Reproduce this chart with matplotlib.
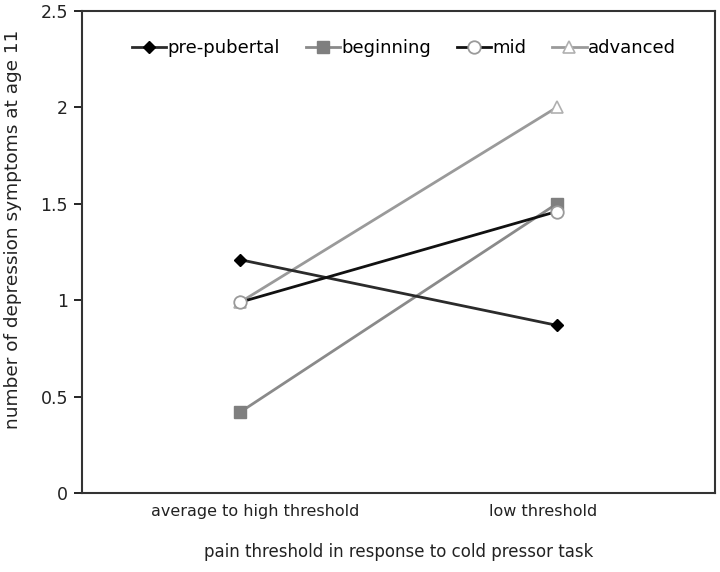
import matplotlib
matplotlib.use("Agg")
import matplotlib.pyplot as plt
from matplotlib.transforms import ScaledTranslation

categories = ["average to high threshold", "low threshold"]
series_names = ["pre-pubertal", "beginning", "mid", "advanced"]
pre_pubertal = [1.21, 0.87]
beginning = [0.42, 1.50]
mid = [0.99, 1.46]
advanced = [0.99, 2.00]
yticks = [0, 0.5, 1, 1.5, 2, 2.5]
ytick_labels = ["0", "0.5", "1", "1.5", "2", "2.5"]

plt.rcParams['font.family'] = ['DejaVu Sans']

fig = plt.figure(figsize=(7.2, 5.72), dpi=100)
ax = fig.add_axes([0.1139, 0.138, 0.993 - 0.1139, 0.9808 - 0.138])

x = list(range(len(categories)))
styles = [
    dict(color="#2b2b2b", marker="D", markersize=6, markerfacecolor="black", markeredgecolor="black", zorder=4),
    dict(color="#8a8a8a", marker="s", markersize=9, markerfacecolor="#7f7f7f", markeredgecolor="#7f7f7f", zorder=3),
    dict(color="#111111", marker="o", markersize=9, markerfacecolor="white", markeredgecolor="#9a9a9a", markeredgewidth=1.3, zorder=5),
    dict(color="#9a9a9a", marker="^", markersize=8.5, markerfacecolor="white", markeredgecolor="#b0b0b0", markeredgewidth=1.2, zorder=2),
]
for name, vals, st in zip(series_names, [pre_pubertal, beginning, mid, advanced], styles):
    ax.plot(x, vals, linewidth=2.0, label=name, **st)

ax.set_xlim(-0.5, 1.5)
ax.set_ylim(0, 2.5)
ax.set_yticks(yticks)
ax.set_yticklabels(ytick_labels, fontsize=12.5, color="#222222")
ax.set_xticks(x)
ax.set_xticklabels(categories, fontsize=11.5, color="#222222")
ax.tick_params(axis="x", length=0, pad=8)
ax.tick_params(axis="y", length=6, width=1.2, direction="out", pad=4)
offsets = [15, -14]
for lab, dx in zip(ax.get_xticklabels(), offsets):
    lab.set_transform(lab.get_transform() + ScaledTranslation(dx / 100, 0, fig.dpi_scale_trans))
for s in ax.spines.values():
    s.set_linewidth(1.5)
    s.set_color("#333333")

ax.set_ylabel("number of depression symptoms at age 11", fontsize=13.3, color="#222222")
ax.yaxis.set_label_coords(-0.095, 0.548)
ax.set_xlabel("pain threshold in response to cold pressor task", fontsize=12, color="#222222", labelpad=17)

leg = ax.legend(loc="upper left", bbox_to_anchor=(0.053, 0.975), ncol=4, frameon=False,
                fontsize=13, handlelength=1.9, handletextpad=0.05, columnspacing=1.45)

fig.savefig("out.png", dpi=100)
